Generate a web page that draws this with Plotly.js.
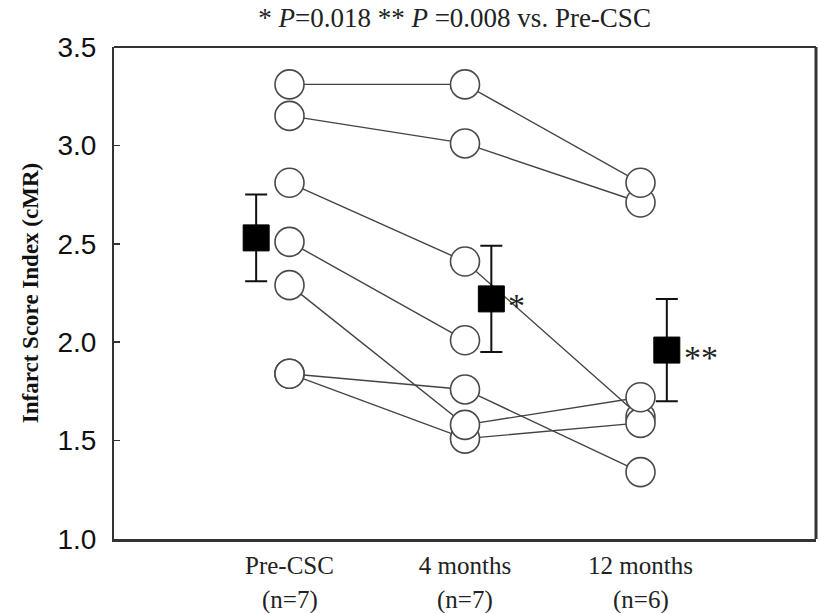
<!DOCTYPE html>
<html>
<head>
<meta charset="utf-8">
<script src="https://cdn.plot.ly/plotly-3.0.1.min.js"></script>
<style>html,body{margin:0;padding:0;background:#fff;}#chart{width:819px;height:613px;}</style>
</head>
<body>
<div id="chart"></div>
<script>
// ---- data ----
const categories = ['Pre-CSC', '4 months', '12 months'];
const nLabels = ['(n=7)', '(n=7)', '(n=6)'];
// individual patients: [Pre-CSC, 4 months, 12 months]
const subject1 = [3.31, 3.31, 2.81];
const subject2 = [3.15, 3.01, 2.71];
const subject3 = [2.81, 2.41, 1.62];
const subject4 = [2.51, 2.01, null];
const subject5 = [2.29, 1.58, 1.72];
const subject6 = [1.84, 1.76, 1.34];
const subject7 = [1.84, 1.51, 1.59];
const meanValues = [2.53, 2.22, 1.96];
const semValues = [0.22, 0.27, 0.26];
const sigMarks = ['', '*', '**'];
const titleText = '* <i>P</i>=0.018 ** <i>P</i> =0.008 vs. Pre-CSC';
const yTitle = 'Infarct Score Index (cMR)';

// ---- build ----
const catX = [1, 2, 3];
const meanOffset = [-0.19, 0.15, 0.15];
const meanX = catX.map((x, i) => x + meanOffset[i]);
// drawing order (later = on top)
const subjects = [subject3, subject4, subject6, subject7, subject5, subject2, subject1];

const traces = [];
subjects.forEach(s => {
  traces.push({
    x: catX, y: s, type: 'scatter', mode: 'lines',
    line: {color: '#444', width: 1.4}, hoverinfo: 'skip', showlegend: false
  });
});
subjects.forEach(s => {
  traces.push({
    x: catX, y: s, type: 'scatter', mode: 'markers',
    marker: {symbol: 'circle', size: 29, color: '#fff', line: {color: '#4a4a4a', width: 1.6}},
    showlegend: false
  });
});
traces.push({
  x: meanX, y: meanValues, type: 'scatter', mode: 'markers',
  marker: {symbol: 'square', size: 26, color: '#000', line: {color: '#000', width: 1}},
  error_y: {type: 'data', array: semValues, visible: true, color: '#111', thickness: 2, width: 11},
  showlegend: false
});

const annotations = [];
catX.forEach((x, i) => {
  annotations.push({
    x: x, xref: 'x', y: 0, yref: 'paper', yanchor: 'middle', yshift: -61,
    text: nLabels[i], showarrow: false,
    font: {family: 'Liberation Serif', size: 25, color: '#222'}
  });
});
meanX.forEach((x, i) => {
  if (!sigMarks[i]) return;
  annotations.push({
    x: x, xref: 'x', y: meanValues[i], yref: 'y', xanchor: 'left', yanchor: 'middle',
    xshift: 15, yshift: -7, text: sigMarks[i], showarrow: false,
    font: {family: 'Liberation Serif', size: 34, color: '#222'}
  });
});

const layout = {
  width: 819, height: 613,
  margin: {l: 114, r: 3, t: 47, b: 74},
  paper_bgcolor: '#fff', plot_bgcolor: '#fff',
  title: {
    text: titleText, x: 0.555, xanchor: 'center', y: 0.972, yanchor: 'middle',
    font: {family: 'Liberation Serif', size: 27, color: '#222'}
  },
  xaxis: {
    range: [0, 4], tickvals: catX, ticktext: categories, ticks: '',
    showgrid: false, zeroline: false, showline: true, linewidth: 3, linecolor: '#333',
    tickfont: {family: 'Liberation Serif', size: 25, color: '#222'},
    ticklabelstandoff: 2
  },
  yaxis: {
    range: [1, 3.5], dtick: 0.5, tick0: 1, tickformat: '.1f',
    ticks: 'inside', ticklen: 6, tickwidth: 1.5, tickcolor: '#333',
    showgrid: false, zeroline: false, showline: true, linewidth: 2, linecolor: '#333',
    tickfont: {family: 'Liberation Sans', size: 28, color: '#111'},
    ticklabelstandoff: 10,
    title: {text: '<b>' + yTitle + '</b>', font: {family: 'Liberation Serif', size: 23, color: '#111'}, standoff: 12}
  },
  shapes: [
    {type: 'line', xref: 'paper', yref: 'paper', x0: 0, x1: 1, y0: 1, y1: 1, line: {color: '#333', width: 2}},
    {type: 'line', xref: 'paper', yref: 'paper', x0: 1, x1: 1, y0: 0, y1: 1, line: {color: '#333', width: 3}}
  ],
  annotations: annotations
};

Plotly.newPlot('chart', traces, layout, {displayModeBar: false, staticPlot: true});
</script>
</body>
</html>
